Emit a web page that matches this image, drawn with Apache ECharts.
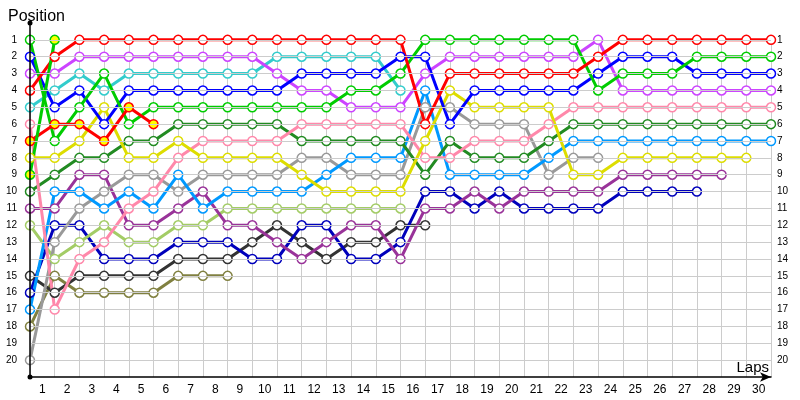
<!DOCTYPE html>
<html>
<head>
<meta charset="utf-8">
<script src="https://cdn.jsdelivr.net/npm/echarts@6/dist/echarts.min.js"></script>
<style>
  html, body { margin: 0; padding: 0; background: #fff; }
  #chart { width: 800px; height: 400px; }
</style>
</head>
<body>
<div id="chart"></div>
<script>
// laps 0..30, x tick labels sit between the lap gridlines
const laps = [0, 1, 2, 3, 4, 5, 6, 7, 8, 9, 10, 11, 12, 13, 14, 15, 16, 17, 18, 19, 20, 21, 22, 23, 24, 25, 26, 27, 28, 29, 30];
const lapLabels = ['1', '2', '3', '4', '5', '6', '7', '8', '9', '10', '11', '12', '13', '14', '15',
  '16', '17', '18', '19', '20', '21', '22', '23', '24', '25', '26', '27', '28', '29', '30'];

// position per lap (missing tail = retired)
const red = [4, 2, 1, 1, 1, 1, 1, 1, 1, 1, 1, 1, 1, 1, 1, 1, 6, 3, 3, 3, 3, 3, 3, 2, 1, 1, 1, 1, 1, 1, 1];
const green = [1, 7, 5, 3, 6, 5, 5, 5, 5, 5, 5, 5, 5, 4, 4, 3, 1, 1, 1, 1, 1, 1, 1, 4, 3, 3, 3, 2, 2, 2, 2];
const greenYellow = [9, 1];
const blue = [2, 5, 4, 6, 4, 4, 4, 4, 4, 4, 4, 3, 3, 3, 3, 2, 2, 6, 4, 4, 4, 4, 4, 3, 2, 2, 2, 3, 3, 3, 3];
const violet = [3, 3, 2, 2, 2, 2, 2, 2, 2, 2, 3, 4, 4, 5, 5, 5, 3, 2, 2, 2, 2, 2, 2, 1, 4, 4, 4, 4, 4, 4, 4];
const cyan = [5, 4, 3, 4, 3, 3, 3, 3, 3, 3, 2, 2, 2, 2, 2, 4];
const redYellow = [7, 6, 6, 7, 5, 6];
const yellow = [8, 8, 7, 5, 8, 8, 7, 8, 8, 8, 8, 9, 10, 10, 10, 10, 7, 4, 5, 5, 5, 5, 9, 9, 8, 8, 8, 8, 8, 8];
const pink = [6, 17, 14, 13, 11, 10, 8, 7, 7, 7, 7, 6, 6, 6, 6, 6, 8, 8, 7, 7, 7, 6, 5, 5, 5, 5, 5, 5, 5, 5, 5];
const darkGreen = [10, 9, 8, 8, 7, 7, 6, 6, 6, 6, 6, 7, 7, 7, 7, 7, 9, 7, 8, 8, 8, 7, 6, 6, 6, 6, 6, 6, 6, 6, 6];
const purple = [11, 11, 9, 9, 12, 12, 11, 10, 12, 12, 13, 14, 13, 12, 12, 14, 11, 11, 10, 11, 10, 10, 10, 10, 9, 9, 9, 9, 9];
const gray = [20, 13, 11, 10, 9, 9, 10, 9, 9, 9, 9, 8, 8, 9, 9, 9, 5, 5, 6, 6, 6, 9, 8, 8];
const skyBlue = [17, 10, 10, 11, 10, 11, 9, 11, 10, 10, 10, 10, 9, 8, 8, 8, 4, 9, 9, 9, 9, 8, 7, 7, 7, 7, 7, 7, 7, 7, 7];
const lightGreen = [12, 14, 13, 12, 13, 13, 12, 12, 11, 11, 11, 11, 11, 11, 11, 11];
const navy = [16, 12, 12, 14, 14, 14, 13, 13, 13, 14, 14, 12, 12, 14, 14, 13, 10, 10, 11, 10, 11, 11, 11, 11, 10, 10, 10, 10];
const darkGray = [15, 16, 15, 15, 15, 15, 14, 14, 14, 13, 12, 13, 14, 13, 13, 12, 12];
const olive = [18, 15, 16, 16, 16, 16, 15, 15, 15];

const drivers = [
  { line: '#808040', fill: '#fff', pos: olive },
  { line: '#333333', fill: '#fff', pos: darkGray },
  { line: '#0000bb', fill: '#fff', pos: navy },
  { line: '#a3cc66', fill: '#fff', pos: lightGreen },
  { line: '#993399', fill: '#fff', pos: purple },
  { line: '#999999', fill: '#fff', pos: gray },
  { line: '#0099ff', fill: '#fff', pos: skyBlue },
  { line: '#228b22', fill: '#fff', pos: darkGreen },
  { line: '#ff88aa', fill: '#fff', pos: pink },
  { line: '#dddd00', fill: '#fff', pos: yellow },
  { line: '#33cccc', fill: '#fff', pos: cyan },
  { line: '#cc44ff', fill: '#fff', pos: violet },
  { line: '#0000ff', fill: '#fff', pos: blue },
  { line: '#00cc00', fill: '#fff', pos: green },
  { line: '#ff0000', fill: '#fff', pos: red },
  { line: '#ff0000', fill: '#ffff00', pos: redYellow },
  { line: '#00cc00', fill: '#ffff00', pos: greenYellow }
];

const font = 'Liberation Sans';
const gridColor = '#cccccc';

const chart = echarts.init(document.getElementById('chart'));

chart.setOption({
  animation: false,
  backgroundColor: '#fff',
  title: [
    { text: 'Position', left: 3, top: 4, textStyle: { fontSize: 16, fontWeight: 'normal', color: '#000', fontFamily: font } },
    { text: 'Laps', right: 26, top: 355, textStyle: { fontSize: 15, fontWeight: 'normal', color: '#000', fontFamily: font } }
  ],
  grid: [
    { left: 30, right: 29, top: 23, bottom: 23 },
    // only for the vertical lap lines, which start at position 1
    { left: 30, right: 29, top: 40, bottom: 23 }
  ],
  xAxis: [
    {
      type: 'value',
      gridIndex: 0,
      min: 0,
      max: 30,
      interval: 1,
      axisLine: {
        onZero: false,
        lineStyle: { color: '#000', width: 1.5 },
        symbol: ['none', 'arrow'],
        symbolSize: [7, 11]
      },
      axisTick: { show: false },
      axisLabel: { show: false },
      splitLine: { show: false },
      z: 5
    },
    {
      type: 'category',
      gridIndex: 0,
      position: 'bottom',
      data: lapLabels,
      boundaryGap: true,
      axisLine: { show: false, onZero: false },
      axisTick: { show: false },
      axisLabel: { fontSize: 12, color: '#000', fontFamily: font, margin: 7 },
      splitLine: { show: false }
    },
    {
      type: 'value',
      gridIndex: 1,
      min: 0,
      max: 30,
      interval: 1,
      axisLine: { show: false },
      axisTick: { show: false },
      axisLabel: { show: false },
      splitLine: { lineStyle: { color: gridColor, width: 1 } }
    }
  ],
  yAxis: [
    {
      type: 'value',
      gridIndex: 0,
      inverse: true,
      min: 0,
      max: 21,
      interval: 1,
      axisLine: {
        show: true,
        onZero: false,
        lineStyle: { color: '#000', width: 1.5 },
        symbol: ['circle', 'circle'],
        symbolSize: [5, 5]
      },
      axisTick: { show: false },
      axisLabel: {
        fontSize: 10, color: '#000', fontFamily: font, margin: 13,
        showMinLabel: false, showMaxLabel: false
      },
      splitLine: { showMinLine: false, showMaxLine: false, lineStyle: { color: gridColor, width: 1 } },
      z: 5
    },
    {
      type: 'value',
      gridIndex: 0,
      position: 'right',
      inverse: true,
      min: 0,
      max: 21,
      interval: 1,
      axisLine: { show: false, onZero: false },
      axisTick: { show: false },
      axisLabel: {
        fontSize: 10, color: '#000', fontFamily: font, margin: 6,
        showMinLabel: false, showMaxLabel: false
      },
      splitLine: { show: false }
    },
    {
      type: 'value',
      gridIndex: 1,
      show: false
    }
  ],
  series: drivers.map(d => ({
    type: 'line',
    xAxisIndex: 0,
    yAxisIndex: 0,
    data: d.pos.map((p, i) => [laps[i], p]),
    symbol: 'circle',
    symbolSize: 9,
    showAllSymbol: true,
    lineStyle: { color: d.line, width: 3 },
    itemStyle: { color: d.fill, borderColor: d.line, borderWidth: 1.5 },
    emphasis: { disabled: true }
  }))
});
</script>
</body>
</html>
